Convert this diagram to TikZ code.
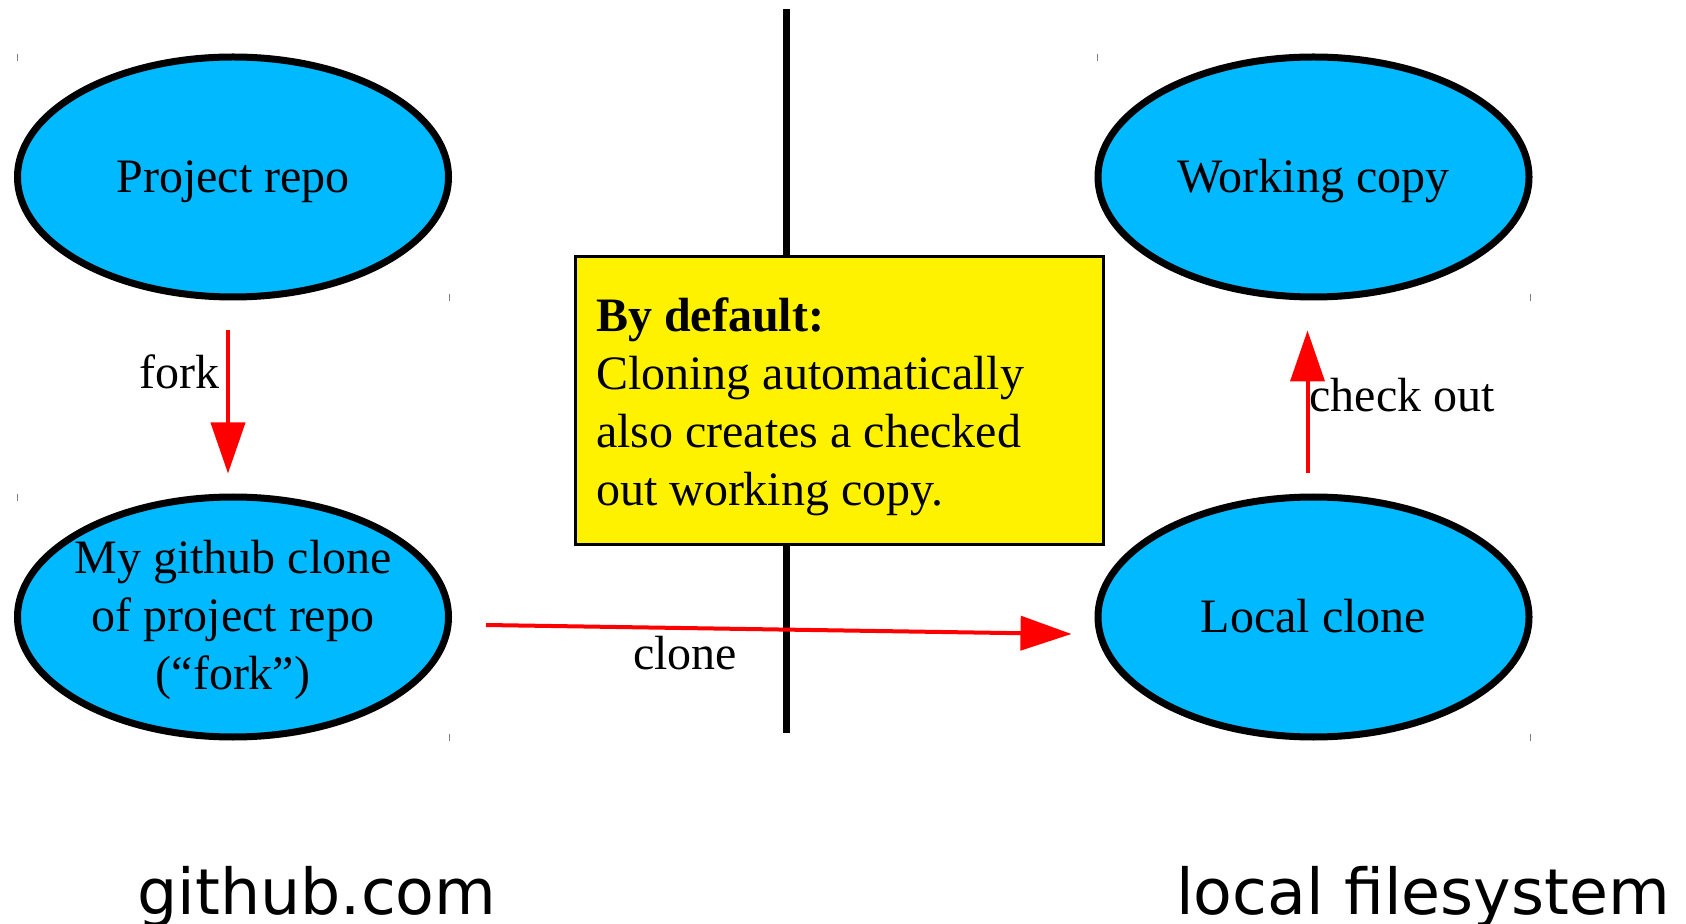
\documentclass[tikz,border=0pt]{standalone}
\usepackage{fontspec}
\setmainfont{Liberation Serif}
\newfontfamily\sitefont{DejaVu Sans}
\usetikzlibrary{shapes.geometric,arrows.meta,positioning}
\definecolor{repoblue}{RGB}{0,185,255}
\tikzset{
  repo/.style={ % image of a repository
    ellipse, draw, line width=3.5pt, fill=repoblue,
    minimum width=215.5pt, minimum height=120pt, inner sep=0pt,
    align=center, text=black, font=\fontsize{24}{29}\selectfont
  },
  oneline/.style={text height=16.5pt, text depth=1pt},
  note/.style={ % yellow remark box
    draw, rectangle, line width=1.5pt, fill=yellow,
    text width=243pt, inner xsep=10.5pt, inner ysep=0pt,
    minimum height=144pt, align=left,
    font=\fontsize{24}{29}\selectfont
  },
  flow/.style={ % red arrow from one repository to the next
    red, line width=2pt, -{Triangle[length=25.5pt,width=17pt]}
  },
  flowlabel/.style={black, font=\fontsize{24}{28}\selectfont},
  side/.style={font=\sitefont\fontsize{31.7}{36}\selectfont},
  corner/.style={gray, line width=0.5pt}
}

\begin{document}
\begin{tikzpicture}[x=0.5pt, y=-0.5pt]
  \useasboundingbox (0,0) rectangle (1686,924);

  % divider between the two sides
  \draw[line width=3.5pt] (786,9) -- (786,733);

  \node[repo,oneline] (proj) at (233,177) {Project repo};
  \node[repo, text height=0pt, text depth=0pt] (fork) at (233,617)
    {\raisebox{-7.75pt}{\makebox[0pt]{\begin{tabular}{@{}c@{}}My github clone\\of project repo\\(“fork”)\end{tabular}}}};
  \node[repo,oneline] (work) at (1313.5,177) {Working copy};
  \node[repo,oneline] (loc) at (1313.5,617) {Local clone};

  % tiny marks left at the corners
  \foreach \px/\py in {17/57, 449/297, 17/497, 449/737, 1097.5/57, 1530.5/297, 1097.5/497, 1530.5/737}
    \draw[corner] (\px,\py-3) -- (\px,\py+4);

  \node[note] (note) at (839,401) {\spaceskip=0pt\xspaceskip=0pt\rule{0pt}{23pt}\textbf{By default:}\\
    Cloning automatically\\also creates a checked\\out working copy.};

  \draw[flow] ([shift={(-2.5pt,-15pt)}]proj.south) -- ([shift={(-2.5pt,10pt)}]fork.north)
    node[flowlabel, pos=0.29, left] {fork};
  \draw[flow] ([shift={(-3pt,10pt)}]loc.north) -- ([shift={(-3pt,-15pt)}]work.south)
    node[flowlabel, pos=0.55, right, inner sep=0pt] {check out};
  \draw[flow] ([shift={(17pt,-4pt)}]fork.east) -- ([shift={(-11.5pt,-8.5pt)}]loc.west)
    node[flowlabel, pos=0.34, below=-0.5pt] {clone};

  \node[side, anchor=base] (hublabel) at (317,914) {github.com};
  \node[side, anchor=base east] (fslabel) at (1677,914) {local filesystem};
\end{tikzpicture}
\end{document}
